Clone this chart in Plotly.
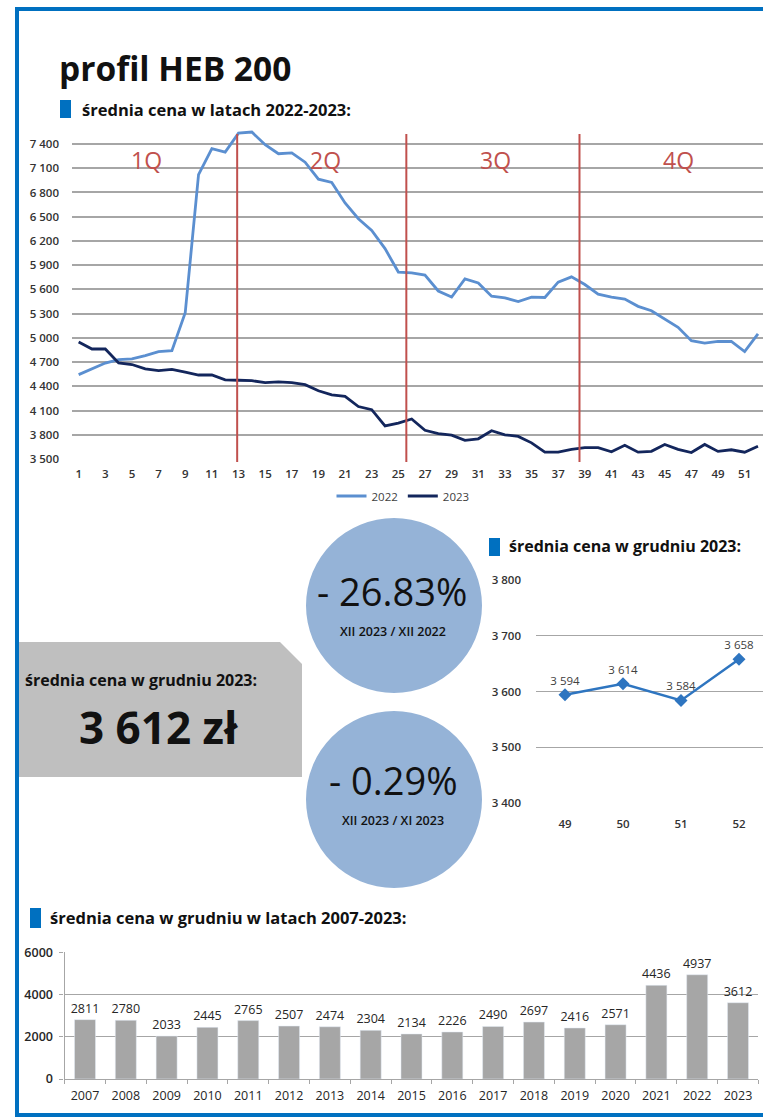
import plotly.graph_objects as go

W, H = 763, 1117
def px(x): return x / W
def py(y): return 1 - y / H

# ---------------- data ----------------
weeks = list(range(1, 53))
price_2022 = [4545, 4615, 4688, 4730, 4740, 4780, 4830, 4840, 5310, 7020,
              7342, 7300, 7535, 7548, 7392, 7280, 7290, 7175, 6965, 6925,
              6670, 6475, 6330, 6105, 5815, 5805, 5777, 5580, 5505, 5730,
              5680, 5515, 5495, 5450, 5505, 5500, 5690, 5755, 5660, 5540,
              5505, 5480, 5390, 5335, 5235, 5130, 4965, 4935, 4955, 4955,
              4830, 5050]
price_2023 = [4950, 4862, 4862, 4690, 4670, 4615, 4595, 4610, 4575, 4540,
              4540, 4480, 4475, 4470, 4445, 4455, 4445, 4420, 4345, 4295,
              4275, 4150, 4110, 3910, 3945, 3995, 3855, 3815, 3795, 3730,
              3750, 3850, 3800, 3780, 3700, 3585, 3585, 3620, 3640, 3640,
              3590, 3670, 3585, 3595, 3680, 3620, 3580, 3680, 3594, 3614,
              3584, 3658]
series_names = ["2022", "2023"]
quarter_bounds = [12.9, 25.6, 38.6]
quarter_labels = ["1Q", "2Q", "3Q", "4Q"]
quarter_label_pos = [6.1, 19.5, 32.3, 46.0]
top_yticks = list(range(3500, 7401, 300))

dec_weeks = [49, 50, 51, 52]
dec_prices = [3594, 3614, 3584, 3658]
dec_yticks = [3400, 3500, 3600, 3700, 3800]

years = [str(y) for y in range(2007, 2024)]
dec_year_prices = [2811, 2780, 2033, 2445, 2765, 2507, 2474, 2304, 2134, 2226,
                   2490, 2697, 2416, 2571, 4436, 4937, 3612]
bar_yticks = [0, 2000, 4000, 6000]

avg_dec_2023 = "3 612 zł"
change_yoy = "- 26.83%"
change_yoy_label = "XII 2023 / XII 2022"
change_mom = "- 0.29%"
change_mom_label = "XII 2023 / XI 2023"

# ---------------- styles ----------------
FONT = "Open Sans"
BLUE = "#0070c0"
RED = "#c0504d"
GRID = "#a6a6a6"
TICK = dict(family=FONT, size=11.5, color="#333333", weight=600)

fig = go.Figure()

fig.add_trace(go.Scatter(x=weeks, y=price_2022, name=series_names[0], mode="lines",
                         line=dict(color="#5b8fd0", width=2.8), xaxis="x", yaxis="y"))
fig.add_trace(go.Scatter(x=weeks, y=price_2023, name=series_names[1], mode="lines",
                         line=dict(color="#13265c", width=2.8), xaxis="x", yaxis="y"))

fig.add_trace(go.Scatter(x=dec_weeks, y=dec_prices, mode="lines+markers+text",
                         line=dict(color="#2e75c0", width=2.5),
                         marker=dict(symbol="diamond", size=10, color="#2e75c0"),
                         text=[f"{v:,}".replace(",", " ") for v in dec_prices],
                         textposition="top center",
                         textfont=dict(family=FONT, size=11.5, color="#404040"),
                         showlegend=False, cliponaxis=False, xaxis="x2", yaxis="y2"))

fig.add_trace(go.Bar(x=years, y=dec_year_prices, marker_color="#a6a6a6",
                     text=[str(v) for v in dec_year_prices], textposition="outside",
                     constraintext="none",
                     textfont=dict(family=FONT, size=12.5, color="#262626"),
                     cliponaxis=False, showlegend=False, xaxis="x3", yaxis="y3"))

layout = dict(
    width=W, height=H, margin=dict(l=0, r=0, t=0, b=0, pad=0, autoexpand=False),
    paper_bgcolor="white", plot_bgcolor="white",
    separators=", ",
    font=dict(family=FONT),
    bargap=0.485,
    legend=dict(orientation="h", x=px(403), y=py(496), xanchor="center", yanchor="middle",
                font=dict(family=FONT, size=11.5, color="#404040"), itemwidth=30,
                bgcolor="rgba(0,0,0,0)"),
    xaxis=dict(domain=[px(72), 1], range=[0.5, 0.5 + (W - 72) / 13.32], anchor="y",
               tickvals=list(range(1, 53, 2)), showgrid=False, zeroline=False,
               showline=False, tickfont=TICK, ticklabelstandoff=6, automargin=False),
    yaxis=dict(domain=[py(459), py(126)], range=[3500, 3500 + (459 - 126) / 24.23 * 300],
               anchor="x", tickvals=top_yticks, tickformat=",d", showgrid=True, gridcolor=GRID,
               gridwidth=1.5, zeroline=False, showline=False, tickfont=TICK,
               ticklabelstandoff=12, automargin=False),
    xaxis2=dict(domain=[px(536), 1], range=[48.5, 48.5 + (W - 536) / 58], anchor="y2",
                tickvals=dec_weeks, showgrid=False, zeroline=False, showline=False,
                tickfont=TICK, ticklabelstandoff=12, automargin=False),
    yaxis2=dict(domain=[py(803), py(580)], range=[3400, 3800], tickvals=dec_yticks,
                anchor="x2", tickformat=",d", showgrid=True, gridcolor=GRID, gridwidth=1.3,
                zeroline=False, showline=False, tickfont=TICK, ticklabelstandoff=14,
                automargin=False),
    xaxis3=dict(domain=[px(64.6), px(758.4)], type="category", showgrid=False, anchor="y3",
                showline=True, linecolor=GRID, linewidth=1.3, ticks="outside",
                tickson="boundaries", ticklen=4, tickcolor=GRID, automargin=False,
                tickfont=dict(family=FONT, size=12.5, color="#262626"), ticklabelstandoff=5),
    yaxis3=dict(domain=[py(1079), py(952.3)], range=[0, 6000], tickvals=bar_yticks,
                anchor="x3", tickformat="d", showgrid=True, gridcolor=GRID, gridwidth=1.3,
                zeroline=False, showline=True, linecolor=GRID, linewidth=1.3,
                ticks="outside", ticklen=4, tickcolor=GRID, automargin=False,
                tickfont=dict(family=FONT, size=12.5, color="#262626", weight=600),
                ticklabelstandoff=4),
)

shapes = []
# frame (top, left, bottom edges only; open on the right like the cropped original)
for (x0, y0, x1, y1) in [(15, 9, W + 40, 9), (17, 7, 17, 1117), (15, 1115, W + 40, 1115)]:
    shapes.append(dict(type="line", xref="paper", yref="paper",
                       x0=px(x0), y0=py(y0), x1=px(x1), y1=py(y1),
                       line=dict(color=BLUE, width=4)))
# quarter separators
for qb in quarter_bounds:
    shapes.append(dict(type="line", xref="x", yref="paper", x0=qb, x1=qb,
                       y0=py(462), y1=py(134), line=dict(color=RED, width=2)))
# title markers
shapes.append(dict(type="rect", xref="paper", yref="paper", x0=px(60), x1=px(71),
                   y0=py(118), y1=py(100), fillcolor=BLUE, line_width=0))
shapes.append(dict(type="rect", xref="paper", yref="paper", x0=px(489), x1=px(500),
                   y0=py(556), y1=py(538), fillcolor=BLUE, line_width=0))
shapes.append(dict(type="rect", xref="paper", yref="paper", x0=px(30), x1=px(41),
                   y0=py(928), y1=py(908), fillcolor=BLUE, line_width=0))
# gray box
shapes.append(dict(type="path", xref="paper", yref="paper",
                   path=(f"M {px(15)},{py(642)} L {px(280)},{py(642)} L {px(302)},{py(664)} "
                         f"L {px(302)},{py(777)} L {px(15)},{py(777)} Z"),
                   fillcolor="#bfbfbf", line_width=0, layer="below"))
# circles
shapes.append(dict(type="circle", xref="paper", yref="paper", x0=px(306), x1=px(482),
                   y0=py(693), y1=py(518), fillcolor="#95b3d7", line_width=0, layer="below"))
shapes.append(dict(type="circle", xref="paper", yref="paper", x0=px(306), x1=px(482),
                   y0=py(888), y1=py(711), fillcolor="#95b3d7", line_width=0, layer="below"))
layout["shapes"] = shapes

ann = []
def text(x, y, s, size, bold=False, color="#111111", xanchor="left", family=FONT, weight=None):
    w = weight if weight else (700 if bold else 400)
    ann.append(dict(xref="paper", yref="paper", x=px(x), y=py(y), text=s, showarrow=False,
                    xanchor=xanchor, yanchor="middle",
                    font=dict(family=family, size=size, color=color, weight=w)))

text(57, 68, "profil HEB 200", 33.5, bold=True)
text(80, 109, "średnia cena w latach 2022-2023:", 16.5, bold=True)
for lab, pos in zip(quarter_labels, quarter_label_pos):
    ann.append(dict(xref="x", yref="paper", x=pos, y=py(160), text=lab, showarrow=False,
                    xanchor="center", yanchor="middle",
                    font=dict(family=FONT, size=23, color=RED)))
text(507, 546, "średnia cena w grudniu 2023:", 16, bold=True)
text(23, 680, "średnia cena w grudniu 2023:", 16, bold=True)
text(158, 727, avg_dec_2023, 44, bold=True, xanchor="center")
text(392, 591, change_yoy, 38, xanchor="center")
text(393, 631, change_yoy_label, 12.5, xanchor="center", weight=600)
text(393, 780, change_mom, 38, xanchor="center")
text(393, 820, change_mom_label, 12.5, xanchor="center", weight=600)
text(48, 917, "średnia cena w grudniu w latach 2007-2023:", 16.5, bold=True)
layout["annotations"] = ann

fig.update_layout(**layout)
fig.write_html("out.html", config={"displayModeBar": False},
               post_script="document.body.style.margin='0';document.body.style.overflow='hidden';")
